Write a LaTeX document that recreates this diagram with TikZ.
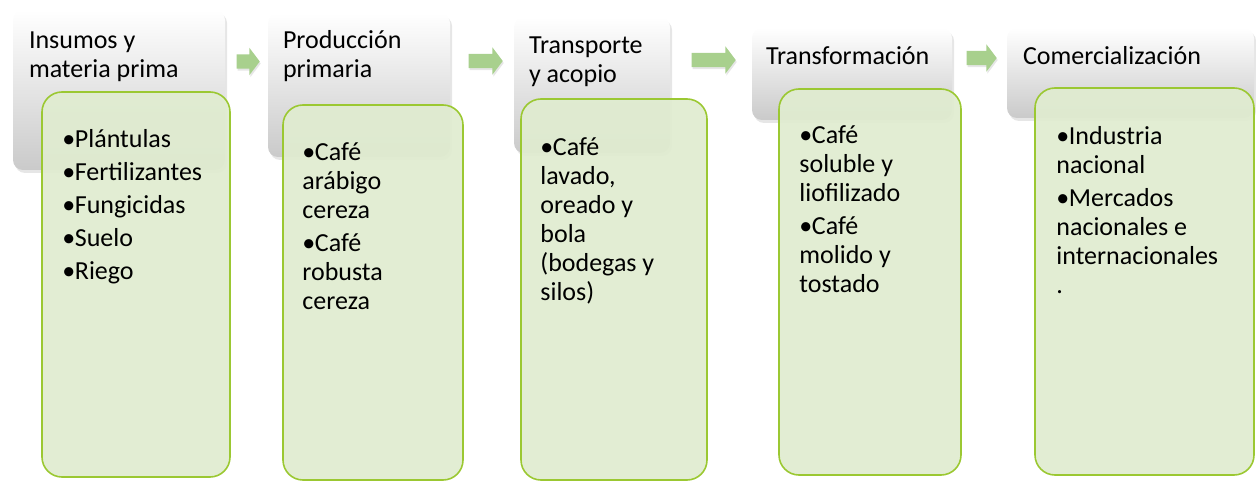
\documentclass[tikz,border=0pt]{standalone}
\usepackage{fontspec}
\setmainfont{Carlito}
\usetikzlibrary{shapes.arrows,shadows}
\definecolor{cafegreen}{RGB}{155,200,50}
\definecolor{cafefill}{RGB}{224,236,208}
\definecolor{cafearrow}{RGB}{168,208,141}
\definecolor{cafegray}{RGB}{202,202,202}
\newcommand{\itm}[1]{\par\spaceskip=0pt\xspaceskip=0pt\hangindent=12.5pt\hangafter=1
  \noindent\strut\makebox[12.5pt][l]{\textbullet}#1}

\begin{document}
\begin{tikzpicture}[x=1pt,y=-1pt]
  \tikzstyle{stage}=[rounded corners=10pt,top color=white,bottom color=cafegray,
    drop shadow={opacity=0.2,shadow xshift=2pt,shadow yshift=-3pt},inner sep=0pt]
  \tikzstyle{ttl}=[anchor=north west,inner sep=0pt,align=left,
    font=\fontsize{26}{29}\selectfont]
  \tikzstyle{det}=[draw=cafegreen,line width=1.6pt,rounded corners=20pt,
    fill=cafefill,fill opacity=0.93,inner sep=0pt]
  \tikzstyle{lst}=[anchor=north west,inner sep=0pt,text width=190pt,align=left,
    font=\fontsize{26}{29}\selectfont,
    execute at begin node={\setlength{\parskip}{4pt}}]
  \tikzstyle{flecha}=[single arrow,fill=cafearrow,draw=none,inner xsep=0pt,
    inner ysep=7pt,single arrow head extend=6.5pt,single arrow tip angle=106,
    drop shadow={opacity=0.2,shadow xshift=1pt,shadow yshift=-2pt}]

  \useasboundingbox (0,0) rectangle (1256,481);

  % -- grey stage boxes --
  \node[stage,minimum width=212pt,minimum height=160pt] (s1) at (119,90) {};
  \node[stage,minimum width=182pt,minimum height=144pt] (s2) at (359,85) {};
  \node[stage,minimum width=156pt,minimum height=136pt] (s3) at (592,85) {};
  \node[stage,minimum width=200pt,minimum height=92pt] (s4) at (852,74) {};
  \node[stage,minimum width=247pt,minimum height=90pt] (s5) at (1130.5,73) {};

  \node[ttl] (t1) at ([shift={(16,21.6)}]s1.north west) {Insumos y\\materia prima};
  \node[ttl] (t2) at ([shift={(15,17)}]s2.north west) {Producción\\primaria};
  \node[ttl] (t3) at ([shift={(15,19.6)}]s3.north west) {Transporte\\y acopio};
  \node[ttl,anchor=base west] (t4) at ([shift={(14,36.5)}]s4.north west) {Transformación};
  \node[ttl,anchor=base west] (t5) at ([shift={(16,37)}]s5.north west) {Comercialización};

  % -- arrows between stages --
  \node[flecha,minimum height=23pt] (a1) at (245.5,61.5) {};
  \node[flecha,minimum height=34pt] (a2) at (483,61) {};
  \node[flecha,minimum height=44pt] (a3) at (711,60) {};
  \node[flecha,minimum height=30pt] (a4) at (979,58) {};

  % -- green detail boxes --
  \node[det,minimum width=188pt,minimum height=385pt] (d1) at (136,284.5) {};
  \node[det,minimum width=180pt,minimum height=375pt] (d2) at (373,292.5) {};
  \node[det,minimum width=186pt,minimum height=381pt] (d3) at (614,289.5) {};
  \node[det,minimum width=182pt,minimum height=386pt] (d4) at (870,282) {};
  \node[det,minimum width=219pt,minimum height=387pt] (d5) at (1144.5,281.5) {};

  \node[lst] (l1) at ([shift={(21,22.7)}]d1.north west)
    {\itm{Plántulas}\itm{Fertilizantes}\itm{Fungicidas}\itm{Suelo}\itm{Riego}};
  \node[lst] (l2) at ([shift={(20,22.7)}]d2.north west)
    {\itm{Café\\arábigo\\cereza}\itm{Café\\robusta\\cereza}};
  \node[lst] (l3) at ([shift={(20,24.5)}]d3.north west)
    {\itm{Café\\lavado,\\oreado y\\bola\\(bodegas y\\silos)}};
  \node[lst] (l4) at ([shift={(21,22.5)}]d4.north west)
    {\itm{Café\\soluble y\\liofilizado}\itm{Café\\molido y\\tostado}};
  \node[lst] (l5) at ([shift={(22,24.4)}]d5.north west)
    {\itm{Industria\\nacional}\itm{Mercados\\nacionales e\\internacionales\\.}};
\end{tikzpicture}
\end{document}
